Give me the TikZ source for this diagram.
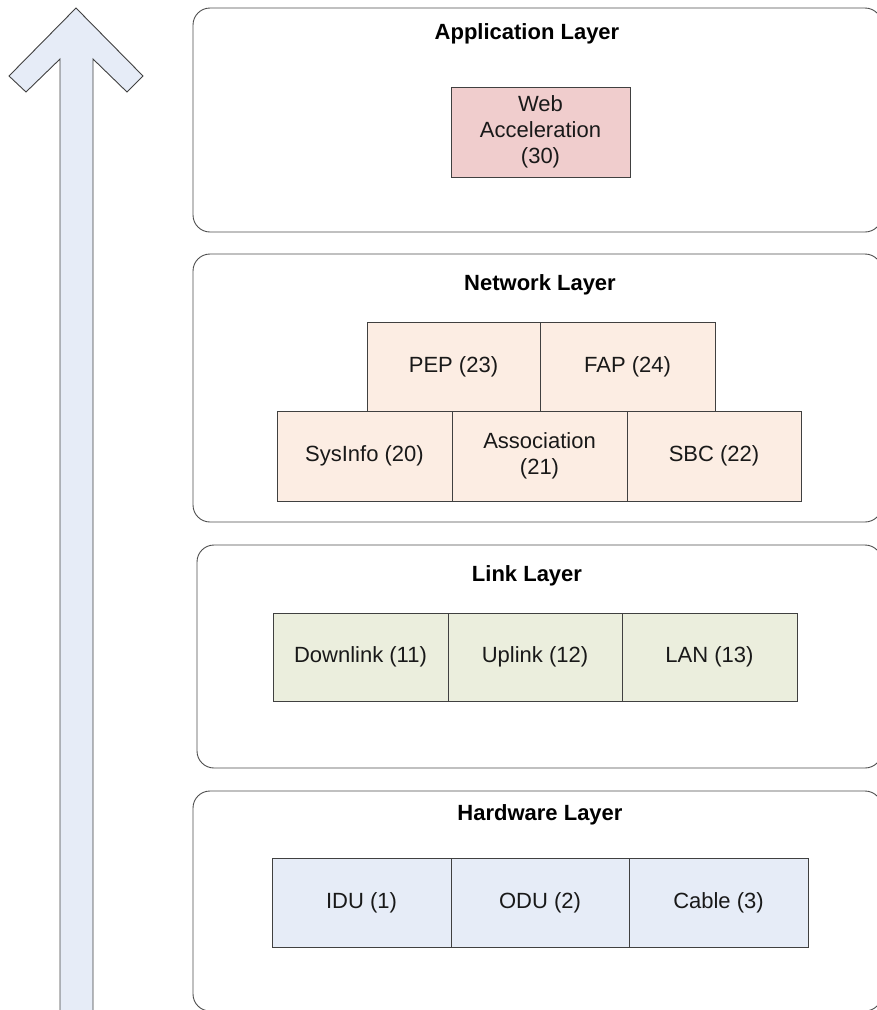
\documentclass[tikz,border=0pt]{standalone}
\usepackage{fontspec}
\setmainfont{Liberation Sans}
\usetikzlibrary{positioning}

\definecolor{arrowblue}{HTML}{E6ECF7}
\definecolor{appred}{HTML}{F0CDCD}
\definecolor{netpeach}{HTML}{FCEDE3}
\definecolor{linkgreen}{HTML}{EBEEDD}
\definecolor{hwblue}{HTML}{E6ECF7}

\begin{document}
\begin{tikzpicture}[x=1pt,y=-1pt,
  layer/.style={draw=black!70, line width=0.9pt, rounded corners=17pt, inner sep=0pt, minimum width=689pt},
  layertitle/.style={font=\fontsize{22}{26}\selectfont\bfseries, inner sep=0pt},
  module/.style={draw=black!75, line width=0.9pt, inner sep=0pt, outer sep=0pt, minimum height=89pt,
    align=center, text=black!90, font=\fontsize{22}{26}\selectfont}]
  \useasboundingbox (0,0) rectangle (877,1010);
  \clip (0,0) rectangle (877,1010);

  % upward arrow
  \draw[draw=black!75, line width=0.9pt, fill=arrowblue]
    (76,8) -- (143,76) -- (127,92) -- (93,59) -- (93,1020) -- (60,1020) -- (60,59) -- (26,92) -- (9,76) -- cycle;

  % layers
  \node[layer, minimum height=224pt] (app) at (537.5,120) {};
  \node[layer, minimum height=268pt] (net) at (537.5,388) {};
  \node[layer, minimum height=223pt, minimum width=685pt] (link) at (539.5,656.5) {};
  \node[layer, minimum height=220pt] (hw) at (537.5,901) {};

  \node[layertitle] (apptitle) at (527,34) {Application Layer};
  \node[layertitle] (nettitle) at (540,285) {Network Layer};
  \node[layertitle] (linktitle) at (527,576) {Link Layer};
  \node[layertitle] (hwtitle) at (540,815) {Hardware Layer};

  % application
  \node[module, fill=appred, minimum width=179pt, minimum height=90pt] (web) at (540.5,132) {Web\\Acceleration\\(30)};

  % network
  \node[module, fill=netpeach, minimum width=173pt] (pep) at (453.5,366.5) {PEP (23)};
  \node[module, fill=netpeach, minimum width=175pt, right=0pt of pep] (fap) {FAP (24)};
  \node[module, fill=netpeach, minimum width=175pt, minimum height=90pt] (sysinfo) at (364.5,456) {SysInfo (20)};
  \node[module, fill=netpeach, minimum width=175pt, minimum height=90pt, right=0pt of sysinfo] (assoc) {Association\\(21)};
  \node[module, fill=netpeach, minimum width=174pt, minimum height=90pt, right=0pt of assoc] (sbc) {SBC (22)};

  % link
  \node[module, fill=linkgreen, minimum width=175pt, minimum height=88pt] (down) at (360.5,657) {Downlink (11)};
  \node[module, fill=linkgreen, minimum width=174pt, minimum height=88pt, right=0pt of down] (up) {Uplink (12)};
  \node[module, fill=linkgreen, minimum width=175pt, minimum height=88pt, right=0pt of up] (lan) {LAN (13)};

  % hardware
  \node[module, fill=hwblue, minimum width=179pt] (idu) at (361.5,902.5) {IDU (1)};
  \node[module, fill=hwblue, minimum width=178pt, right=0pt of idu] (odu) {ODU (2)};
  \node[module, fill=hwblue, minimum width=179pt, right=0pt of odu] (cable) {Cable (3)};
\end{tikzpicture}
\end{document}
